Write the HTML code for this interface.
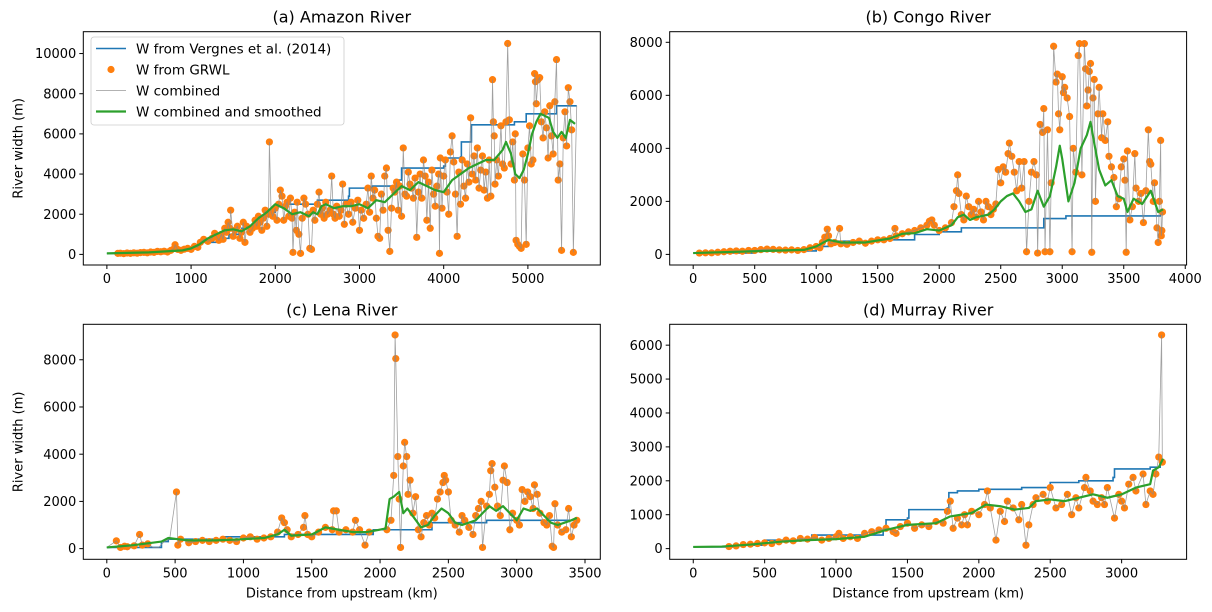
<!DOCTYPE html>
<html><head><meta charset="utf-8"><style>
html,body{margin:0;padding:0;background:#fff;}
svg{display:block;font-family:"DejaVu Sans","Liberation Sans",sans-serif;}
</style></head><body>
<svg id="fig" width="1212" height="612" viewBox="0 0 1212 612" xmlns="http://www.w3.org/2000/svg"></svg>
<script>
// ---------- Amazon ----------
const amazonGrwl=[[130,50],[160,60],[200,40],[240,70],[280,50],[320,80],[360,60],[400,90],[440,100],[480,80],[520,120],[560,100],[600,150],[640,130],[680,160],[720,120],[760,200],[800,300],[810,480],[840,250],[880,200],[920,260],[960,300],[1000,250],[1040,400],[1080,350],[1110,600],[1150,750],[1200,650],[1250,800],[1280,1050],[1300,900],[1330,700],[1360,1000],[1380,750],[1400,1300],[1420,1100],[1440,1600],[1460,1300],[1470,2200],[1500,900],[1520,1200],[1550,1400],[1580,800],[1600,1100],[1620,1600],[1640,600],[1660,1400],[1700,1100],[1730,1300],[1760,1700],[1780,1400],[1800,1900],[1820,1600],[1840,1200],[1860,1800],[1880,2200],[1900,1400],[1920,2000],[1930,5600],[1950,2100],[1970,1900],[2000,2300],[2020,1700],[2040,2500],[2060,3200],[2080,2900],[2100,1700],[2120,2400],[2140,2600],[2160,1900],[2180,2800],[2200,1800],[2210,100],[2230,2100],[2250,1200],[2260,2600],[2280,1000],[2300,50],[2320,1800],[2340,2800],[2360,2500],[2390,2000],[2410,300],[2430,250],[2450,2200],[2470,1700],[2500,2500],[2520,3100],[2540,2000],[2560,2300],[2580,1800],[2600,2600],[2620,2000],[2650,2200],[2670,3900],[2690,2000],[2710,1800],[2730,2400],[2760,1900],[2780,2200],[2800,3500],[2820,1500],[2840,2500],[2870,2000],[2900,2600],[2920,1600],[2950,2300],[2980,2700],[3000,1200],[3020,2200],[3050,1800],[3080,2500],[3100,3300],[3120,2100],[3140,3900],[3160,2800],[3180,3200],[3200,1800],[3220,900],[3240,800],[3260,3000],[3280,2200],[3300,3900],[3320,4300],[3340,1200],[3360,150],[3380,2300],[3400,3300],[3420,3100],[3440,3600],[3460,2200],[3480,3400],[3500,1900],[3520,5300],[3540,3000],[3560,2900],[3580,4100],[3600,3500],[3620,3300],[3640,2800],[3660,3800],[3680,850],[3700,3100],[3720,4000],[3740,2800],[3760,4700],[3780,3900],[3800,1700],[3820,3600],[3840,1300],[3860,4200],[3880,3000],[3900,2400],[3920,3400],[3940,4000],[3950,50],[3960,4800],[3980,2300],[4000,3900],[4020,4700],[4040,3100],[4060,2000],[4080,5100],[4100,5900],[4120,4600],[4140,3000],[4160,900],[4180,4100],[4200,2500],[4220,4700],[4240,3400],[4260,2800],[4280,4500],[4300,3600],[4320,6800],[4340,4000],[4360,4900],[4380,3700],[4400,5300],[4420,3300],[4440,4200],[4460,4900],[4480,3200],[4500,4100],[4520,2800],[4540,4700],[4560,2900],[4580,8700],[4590,6600],[4600,5900],[4610,3500],[4630,4700],[4650,3900],[4680,6400],[4700,4500],[4720,4300],[4740,6600],[4760,10500],[4780,6700],[4800,4500],[4820,5600],[4840,3700],[4850,6000],[4860,700],[4880,500],[4900,400],[4920,300],[4940,5000],[4960,3700],[4980,500],[5000,5300],[5020,6400],[5040,4500],[5060,4700],[5080,9000],[5090,8600],[5100,7500],[5120,8700],[5140,8800],[5160,6600],[5180,5800],[5200,7100],[5220,6300],[5240,4800],[5260,7400],[5280,5900],[5300,5000],[5320,7600],[5340,9700],[5360,3700],[5380,4500],[5400,200],[5420,5800],[5440,7100],[5460,5400],[5480,8300],[5500,7600],[5520,6200],[5540,100]];
const amazonVergnes=[[0,50],[200,100],[500,200],[800,300],[1000,380],[1100,600],[1300,800],[1450,1000],[1600,1300],[1800,1900],[1900,2100],[2000,2450],[2150,2500],[2500,2700],[2870,2900],[2880,3300],[3150,3400],[3450,3700],[3500,4300],[4000,4400],[4020,4800],[4200,4850],[4210,5600],[4320,5600],[4330,6450],[4840,6600],[4980,7000],[5270,7000],[5340,7400],[5580,7400]];
const amazonSmooth=[[0,50],[500,100],[900,200],[1000,300],[1100,500],[1200,800],[1300,1000],[1400,1200],[1500,1250],[1600,1150],[1700,1400],[1800,1800],[1900,2100],[2000,2500],[2100,2300],[2200,2000],[2300,2100],[2400,1900],[2450,2100],[2500,2000],[2550,2400],[2600,2500],[2700,2300],[2800,2400],[2900,2400],[3000,2500],[3100,2300],[3200,2700],[3300,2600],[3400,3000],[3500,3400],[3600,3200],[3700,3600],[3800,3400],[3900,3200],[4000,3100],[4100,3700],[4200,4000],[4300,4300],[4400,4500],[4500,4700],[4600,4700],[4700,5200],[4740,5600],[4800,5000],[4850,4000],[4900,3800],[4950,4200],[5000,5000],[5050,6000],[5100,6600],[5150,7000],[5200,6900],[5250,6800],[5300,6100],[5350,5800],[5400,6100],[5450,5800],[5500,6700],[5560,6500]];
const amazonXTicks=[0,1000,2000,3000,4000,5000];
const amazonYTicks=[0,2000,4000,6000,8000,10000];
// ---------- Congo ----------
const congoGrwl=[[50,50],[100,60],[150,60],[200,80],[250,100],[300,120],[350,130],[400,120],[450,150],[500,150],[550,180],[600,200],[650,190],[700,170],[750,160],[800,170],[850,150],[900,180],[950,250],[1000,300],[1030,250],[1050,450],[1070,650],[1090,950],[1100,700],[1120,400],[1150,450],[1190,980],[1200,400],[1250,380],[1300,450],[1350,500],[1400,420],[1450,500],[1500,550],[1550,550],[1600,600],[1640,980],[1650,700],[1700,780],[1750,850],[1800,900],[1850,1000],[1900,1100],[1920,1250],[1940,1300],[1960,1100],[2000,900],[2050,1000],[2100,1200],[2120,1800],[2140,2400],[2150,3000],[2160,2300],[2180,1500],[2200,1300],[2220,2200],[2240,1800],[2260,1500],[2280,1700],[2300,1400],[2320,2000],[2340,1600],[2360,1300],[2380,2000],[2400,1800],[2420,1500],[2440,1700],[2460,1900],[2480,3200],[2500,2700],[2520,3300],[2540,3100],[2560,3800],[2570,4200],[2590,3700],[2610,3100],[2630,2400],[2650,3500],[2670,2500],[2690,3500],[2710,100],[2730,2000],[2750,3100],[2770,3500],[2790,3000],[2800,50],[2820,4900],[2840,4600],[2850,5500],[2860,100],[2880,4700],[2900,100],[2910,2700],[2930,7850],[2950,6500],[2960,6800],[2970,5300],[2980,4700],[3000,6700],[3010,6100],[3020,6300],[3040,5900],[3060,5200],[3080,100],[3090,4000],[3110,3100],[3130,7500],[3140,7950],[3160,3000],[3180,7950],[3190,7000],[3200,5600],[3210,6200],[3220,6900],[3230,7200],[3240,80],[3250,5900],[3260,6600],[3270,2000],[3290,5300],[3300,6300],[3320,4400],[3330,5300],[3350,4300],[3370,5000],[3380,3700],[3400,3300],[3420,2900],[3440,1800],[3460,2100],[3480,3300],[3500,3600],[3510,2800],[3520,80],[3530,3900],[3550,1300],[3570,1800],[3590,3800],[3600,2500],[3620,2000],[3640,2300],[3660,1200],[3680,2400],[3700,4700],[3710,3500],[3720,3400],[3740,2000],[3750,2700],[3770,1000],[3780,450],[3790,2000],[3800,4300],[3805,700],[3810,900],[3815,1600]];
const congoVergnes=[[0,50],[500,130],[1000,300],[1100,500],[1500,550],[1800,750],[2000,850],[2180,850],[2180,1000],[2850,1000],[2850,1350],[3030,1350],[3030,1450],[3800,1550]];
const congoSmooth=[[0,50],[500,120],[900,170],[1000,300],[1100,550],[1200,450],[1400,450],[1600,600],[1700,780],[1800,800],[1900,950],[2000,900],[2100,1100],[2150,1400],[2200,1500],[2250,1300],[2300,1400],[2400,1500],[2450,1700],[2500,2000],[2550,2200],[2600,2300],[2650,2000],[2700,1600],[2750,1700],[2800,2400],[2850,1800],[2900,2200],[2950,3300],[2980,4100],[3000,3600],[3050,2000],[3100,2700],[3150,4000],[3200,4500],[3230,5000],[3260,4200],[3300,3200],[3350,2600],[3400,2800],[3450,2200],[3500,2100],[3530,1600],[3580,2100],[3650,1900],[3720,2400],[3780,1600],[3820,1700]];
const congoXTicks=[0,500,1000,1500,2000,2500,3000,3500,4000];
const congoYTicks=[0,2000,4000,6000,8000];
// ---------- Lena ----------
const lenaGrwl=[[70,330],[100,50],[130,100],[150,80],[200,120],[240,600],[260,150],[300,200],[510,2400],[520,150],[540,400],[600,250],[650,300],[700,350],[750,300],[800,350],[850,400],[900,350],[950,300],[1000,450],[1050,500],[1100,400],[1150,450],[1200,500],[1250,700],[1280,1300],[1300,1100],[1320,800],[1350,500],[1400,600],[1440,900],[1450,1400],[1470,600],[1500,500],[1550,700],[1600,900],[1650,800],[1660,1600],[1680,1600],[1700,700],[1750,800],[1800,700],[1820,1200],[1850,800],[1890,150],[1920,700],[2050,800],[2080,1200],[2100,3100],[2110,9050],[2115,8050],[2130,3900],[2140,2100],[2150,50],[2170,3500],[2180,4500],[2195,3900],[2205,2300],[2220,2900],[2240,1500],[2260,2200],[2280,800],[2300,500],[2320,1100],[2340,1400],[2360,1000],[2380,1500],[2400,1300],[2420,2100],[2440,2400],[2460,2800],[2470,3100],[2480,2900],[2500,2400],[2520,1200],[2550,1000],[2580,700],[2600,1400],[2620,1200],[2650,900],[2680,600],[2700,1400],[2720,1700],[2740,2000],[2750,50],[2780,1800],[2800,2300],[2810,3300],[2820,3600],[2840,2600],[2860,1800],[2880,1400],[2900,2900],[2910,3500],[2930,2800],[2950,800],[2970,1500],[3000,1200],[3020,1000],[3040,2500],[3060,2000],[3080,2400],[3100,2200],[3120,1700],[3130,2700],[3150,2300],[3170,1500],[3200,1100],[3220,1000],[3240,1400],[3260,100],[3270,50],[3280,1900],[3300,1000],[3330,700],[3360,800],[3380,1700],[3400,500],[3420,1000],[3440,1200]];
const lenaVergnes=[[0,50],[400,300],[450,400],[850,450],[850,500],[1300,500],[1300,600],[1950,600],[1950,800],[2380,800],[2380,1100],[2780,1100],[2780,1200],[3440,1250]];
const lenaSmooth=[[0,50],[200,150],[400,300],[450,450],[520,400],[600,350],[800,350],[1000,400],[1150,450],[1250,600],[1300,800],[1350,550],[1500,600],[1600,900],[1700,800],[1800,700],[1900,700],[1950,750],[2040,850],[2070,2100],[2100,2200],[2140,2400],[2170,1500],[2200,1700],[2250,1300],[2300,900],[2350,1000],[2400,1400],[2450,1700],[2500,1500],[2550,1100],[2600,1000],[2700,1200],[2800,1800],[2850,1600],[2900,1800],[2950,1500],[3000,1200],[3050,1700],[3100,1600],[3150,1700],[3200,1400],[3250,1100],[3300,1000],[3350,1100],[3400,1200],[3440,1300]];
const lenaXTicks=[0,500,1000,1500,2000,2500,3000,3500];
const lenaYTicks=[0,2000,4000,6000,8000];
// ---------- Murray ----------
const murrayGrwl=[[250,60],[300,80],[350,120],[400,130],[450,150],[500,170],[550,150],[600,200],[650,250],[700,230],[750,300],[800,280],[850,330],[900,250],[950,300],[1000,350],[1020,450],[1050,300],[1100,350],[1150,300],[1200,450],[1250,500],[1300,550],[1350,600],[1400,500],[1420,450],[1450,650],[1500,750],[1550,600],[1600,700],[1650,650],[1700,800],[1750,750],[1780,1100],[1800,1400],[1820,600],[1850,900],[1880,700],[1900,1000],[1920,700],[1950,1100],[2000,1000],[2040,1300],[2060,1700],[2080,1200],[2120,250],[2150,1100],[2180,800],[2200,1400],[2240,1200],[2280,850],[2300,1300],[2330,100],[2350,700],[2380,1300],[2400,1500],[2450,1600],[2480,1400],[2500,1800],[2540,1200],[2580,1300],[2620,1600],[2650,1000],[2680,1500],[2700,1200],[2740,1800],[2750,2100],[2780,1700],[2800,1400],[2830,1300],[2860,1500],[2880,1300],[2900,1800],[2950,900],[2980,1600],[3000,1400],[3020,1200],[3050,1900],[3080,2100],[3100,1700],[3150,2200],[3170,1300],[3200,1700],[3220,1600],[3240,2200],[3260,2700],[3280,6300],[3285,2550]];
const murrayVergnes=[[0,50],[300,100],[500,250],[800,300],[830,400],[1330,550],[1350,850],[1500,900],[1510,1150],[1780,1200],[1790,1650],[1850,1700],[2000,1750],[2200,1750],[2300,1800],[2500,1950],[2700,2000],[2940,2100],[2950,2350],[3200,2400],[3270,2500]];
const murraySmooth=[[0,50],[200,60],[400,120],[600,200],[800,250],[1000,280],[1200,350],[1350,550],[1500,700],[1700,750],[1800,950],[1950,1050],[2050,1300],[2150,1250],[2250,1150],[2350,1200],[2400,1400],[2500,1450],[2600,1400],[2700,1500],[2800,1600],[2900,1500],[3000,1600],[3100,1800],[3200,1900],[3220,2300],[3260,2400],[3290,2650]];
const murrayXTicks=[0,500,1000,1500,2000,2500,3000];
const murrayYTicks=[0,1000,2000,3000,4000,5000,6000];

const NS="http://www.w3.org/2000/svg";
const svg=document.getElementById('fig');
function mk(tag,attrs,parent){const e=document.createElementNS(NS,tag);for(const k in attrs)e.setAttribute(k,attrs[k]);(parent||svg).appendChild(e);return e;}
function vergAt(v,x){let y=v[0][1];for(const p of v){if(p[0]<=x)y=p[1];}return y;}

function panel(cfg){
  const g=mk('g',{});
  
  
  const L=cfg.box[0],T=cfg.box[1],R=cfg.box[2],B=cfg.box[3];
  const sx=v=>L+(v-cfg.xlim[0])/(cfg.xlim[1]-cfg.xlim[0])*(R-L);
  const sy=v=>B-(v-cfg.ylim[0])/(cfg.ylim[1]-cfg.ylim[0])*(B-T);
  const cid='clip-'+cfg.name;
  const cp=mk('clipPath',{id:cid},g);mk('rect',{x:L,y:T,width:R-L,height:B-T},cp);
  const plot=mk('g',{'clip-path':'url(#'+cid+')'},g);
  let d='';cfg.vergnes.forEach((p,i)=>{if(i===0)d+='M'+sx(p[0])+','+sy(p[1]);else d+=' L'+sx(p[0])+','+sy(cfg.vergnes[i-1][1])+' L'+sx(p[0])+','+sy(p[1]);});
  const bl=mk('path',{d:d,fill:'none',stroke:'#1f77b4','stroke-width':1.6},plot);
  
  
  const dg=mk('g',{fill:'#ff7f0e'},plot);
  
  
  cfg.grwl.forEach(p=>{const c=mk('circle',{cx:sx(p[0]),cy:sy(p[1]),r:3.6},dg);
    
    });
  // combined: GRWL points, with Vergnes filling gaps
  const comb=[[0,cfg.vergnes[0][1]]];
  let prev=0;
  cfg.grwl.forEach(p=>{for(let x=prev+40;x<p[0]-40;x+=40)comb.push([x,vergAt(cfg.vergnes,x)]);comb.push(p);prev=p[0];});
  const last=cfg.vergnes[cfg.vergnes.length-1][0];
  for(let x=prev+40;x<=last;x+=40)comb.push([x,vergAt(cfg.vergnes,x)]);
  const gl=mk('polyline',{points:comb.map(p=>sx(p[0])+','+sy(p[1])).join(' '),fill:'none',stroke:'#888','stroke-opacity':0.8,'stroke-width':0.8},plot);
  
  
  const sl=mk('polyline',{points:cfg.smooth.map(p=>sx(p[0])+','+sy(p[1])).join(' '),fill:'none',stroke:'#2ca02c','stroke-width':2.2,'stroke-linejoin':'round'},plot);
  
  
  mk('rect',{x:L,y:T,width:R-L,height:B-T,fill:'none',stroke:'#000','stroke-width':1},g);
  cfg.xticks.forEach(v=>{const x=sx(v);mk('line',{x1:x,x2:x,y1:B,y2:B+4,stroke:'#000','stroke-width':1},g);
    const t=mk('text',{x:x,y:B+18,'text-anchor':'middle','font-size':13},g);t.textContent=v;
    
    });
  cfg.yticks.forEach(v=>{const y=sy(v);mk('line',{x1:L-4,x2:L,y1:y,y2:y,stroke:'#000','stroke-width':1},g);
    const t=mk('text',{x:L-7,y:y+4.6,'text-anchor':'end','font-size':13},g);t.textContent=v;
    
    });
  const tt=mk('text',{x:(L+R)/2,y:T-9,'text-anchor':'middle','font-size':16},g);tt.textContent=cfg.title;
  
  
  if(cfg.ylabel){const yl=mk('text',{x:0,y:0,'text-anchor':'middle','font-size':13,transform:'translate('+(L-61)+','+((T+B)/2)+') rotate(-90)'},g);yl.textContent='River width (m)';
    
    }
  if(cfg.xlabel){const xl=mk('text',{x:(L+R)/2,y:B+38,'text-anchor':'middle','font-size':13},g);xl.textContent='Distance from upstream (km)';
    
    }
}
panel({name:'amazon',title:'(a) Amazon River',box:[83.3,31.7,600.3,265],xlim:[-280,5860],ylim:[-528,11088],grwl:amazonGrwl,vergnes:amazonVergnes,smooth:amazonSmooth,xticks:amazonXTicks,yticks:amazonYTicks,ylabel:true});
panel({name:'congo',title:'(b) Congo River',box:[669.7,31.7,1186.6,265],xlim:[-191,4011],ylim:[-400,8400],grwl:congoGrwl,vergnes:congoVergnes,smooth:congoSmooth,xticks:congoXTicks,yticks:congoYTicks});
panel({name:'lena',title:'(c) Lena River',box:[83.3,324.3,600.3,559.3],xlim:[-172,3612],ylim:[-452,9502],grwl:lenaGrwl,vergnes:lenaVergnes,smooth:lenaSmooth,xticks:lenaXTicks,yticks:lenaYTicks,ylabel:true,xlabel:true});
panel({name:'murray',title:'(d) Murray River',box:[669.7,324.3,1186.6,559.3],xlim:[-165,3455],ylim:[-315,6615],grwl:murrayGrwl,vergnes:murrayVergnes,smooth:murraySmooth,xticks:murrayXTicks,yticks:murrayYTicks,xlabel:true});

const lg=mk('g',{});


mk('rect',{x:91,y:37,width:253,height:88,rx:3,fill:'#fff','fill-opacity':0.85,stroke:'#ccc','stroke-width':0.8},lg);
const entries=[['W from Vergnes et al. (2014)','line','#1f77b4',1.6],['W from GRWL','dot','#ff7f0e',0],['W combined','line','#999',0.8],['W combined and smoothed','line','#2ca02c',2.2]];
entries.forEach((e,i)=>{const y=48.5+i*21;
  const eg=mk('g',{},lg);
  
  
  if(e[1]==='line')mk('line',{x1:96,x2:126,y1:y,y2:y,stroke:e[2],'stroke-width':e[3]},eg);
  else mk('circle',{cx:111,cy:y,r:3.6,fill:e[2]},eg);
  const t=mk('text',{x:136,y:y+5,'font-size':13.5},eg);t.textContent=e[0];});
</script>
</body></html>
